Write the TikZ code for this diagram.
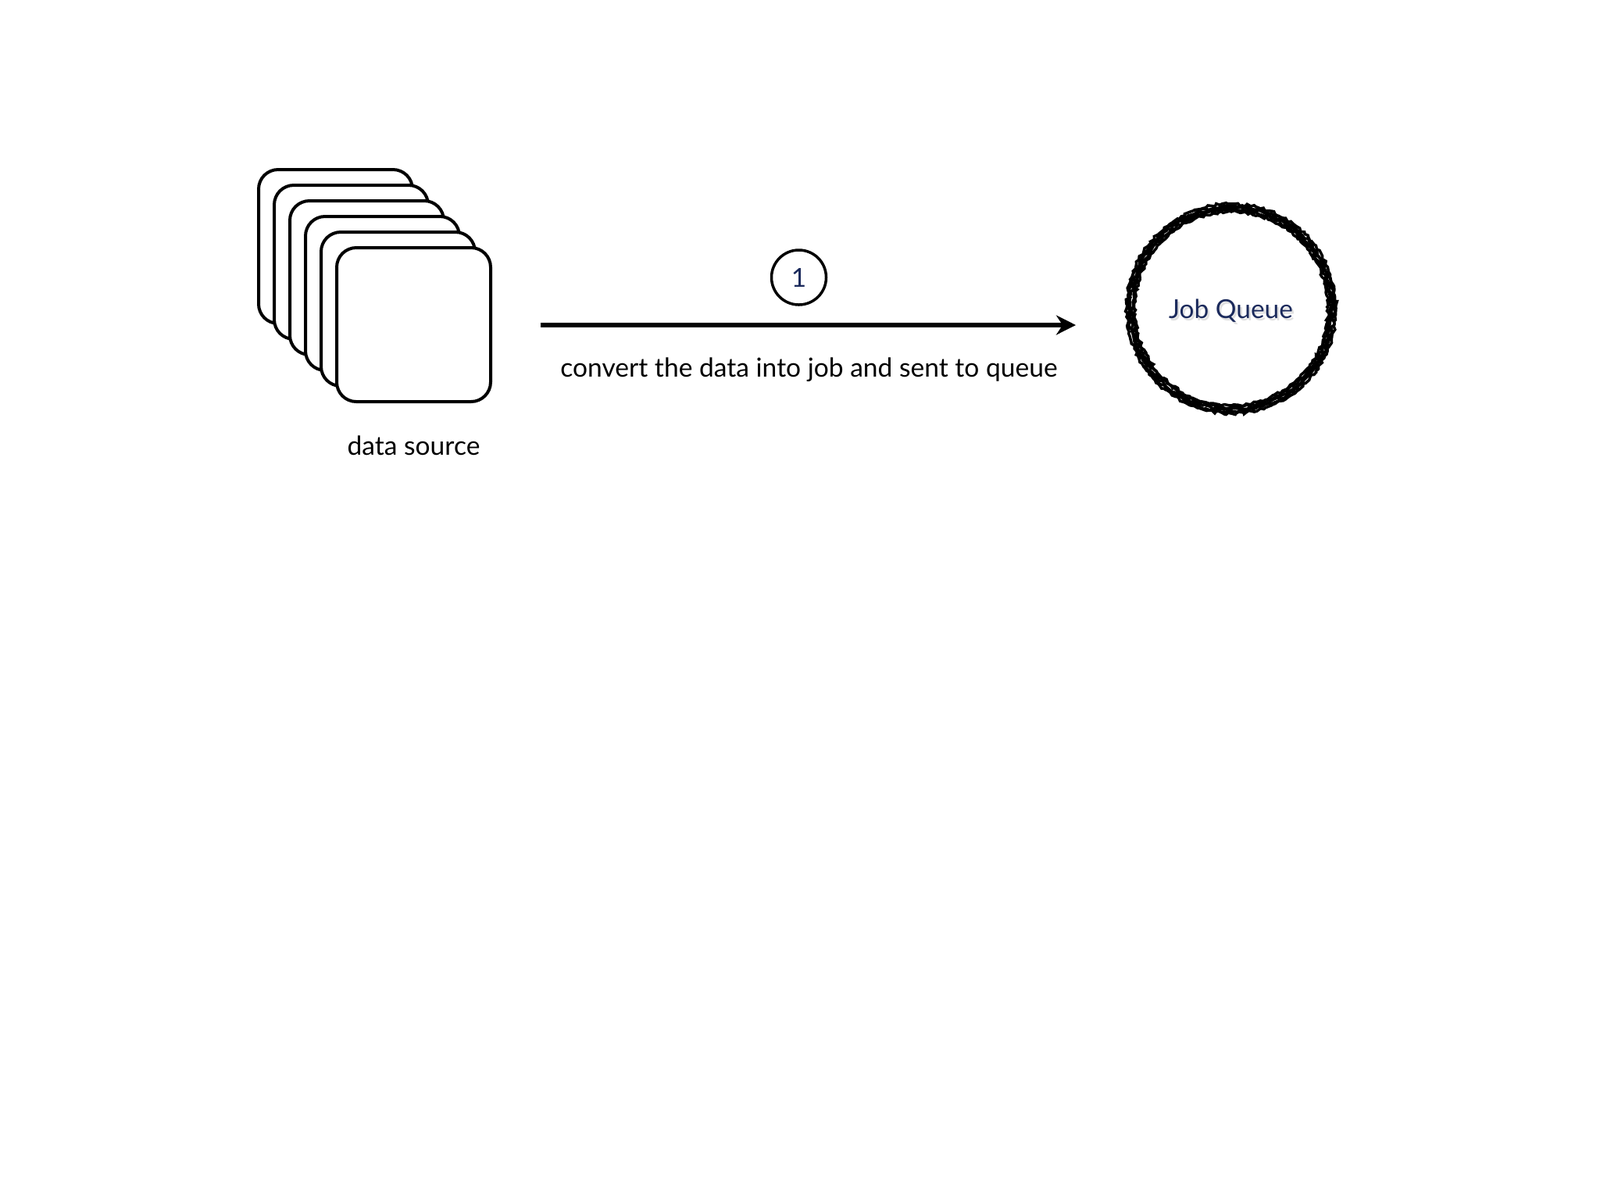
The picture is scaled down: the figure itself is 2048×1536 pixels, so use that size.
\documentclass[tikz,border=0pt]{standalone}
\usepackage{fontspec}
\setmainfont{Lato}
\usetikzlibrary{arrows.meta,decorations.pathmorphing}
\definecolor{navy}{HTML}{1B2A5C}
\begin{document}
\begin{tikzpicture}[x=0.1mm,y=-0.1mm,
  srcbox/.style={draw=black, fill=white, line width=0.4mm, rounded corners=2.5mm,
    minimum width=19.7mm, minimum height=19.7mm, inner sep=0pt, outer sep=0pt},
  lbl/.style={font=\fontsize{9.55}{11}\selectfont, text=black, inner sep=0pt, anchor=base},
  numcirc/.style={draw=black, line width=0.35mm, circle, minimum size=7mm, inner sep=0pt,
    font=\fontsize{9.5}{11}\selectfont, text=navy},
  qtext/.style={font=\fontsize{9.5}{11}\selectfont, text=navy, inner sep=0pt, anchor=base},
  qshadow/.style={font=\fontsize{9.5}{11}\selectfont, text=black!12, inner sep=0pt, anchor=base},
  rough/.style={draw=black, line width=0.35mm, decorate,
    decoration={random steps, segment length=0.35mm, amplitude=0.18mm}},
  flow/.style={line width=0.6mm, -{Stealth[length=2.5mm,width=2.5mm]}}]
\useasboundingbox[fill=white] (0,0) rectangle (2048,1536);
% stacked data source boxes
\foreach \i in {0,...,5}{
  \node[srcbox] (b\i) at (429.5+20*\i,315.5+20*\i) {};
}
\node[lbl] (ds) at (529.5,582) {data source};
% arrow
\coordinate (a0) at (692,416);
\coordinate (a1) at (1377,416);
\draw[flow] (a0) -- (a1);
\node[numcirc] (n1) at (1022.5,355) {1};
\node[lbl] (conv) at (1035.5,482) {convert the data into job and sent to queue};
% job queue
\node[qshadow] (qs) at (1578,410) {Job Queue};
\node[qtext] (qt) at (1575.5,407) {Job Queue};
\coordinate (qc) at (1576,395);
\foreach \r in {124,126.5,129,131.5,134}{
  \draw[rough] (qc) circle (\r);
}
\end{tikzpicture}
\end{document}
